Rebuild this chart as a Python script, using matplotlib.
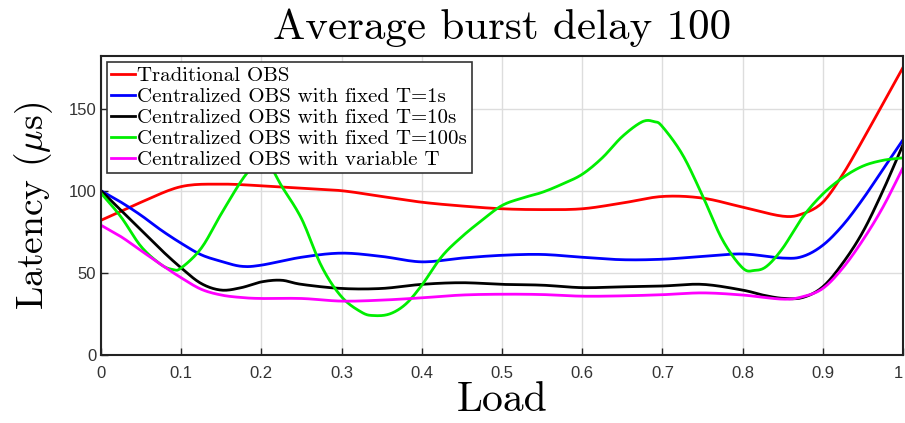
import numpy as np
import matplotlib
matplotlib.use("Agg")
import matplotlib.pyplot as plt

plt.rcParams['mathtext.fontset'] = 'cm'

title = "Average burst delay 100"
xlabel = "Load"
ylabel = r"Latency ($\mu$s)"
labels = ["Traditional OBS",
          "Centralized OBS with fixed T=1s",
          "Centralized OBS with fixed T=10s",
          "Centralized OBS with fixed T=100s",
          "Centralized OBS with variable T"]
colors = ["#ff0000", "#0000ff", "#000000", "#00ee00", "#ff00ff"]

red_x = [0, 0.05, 0.1, 0.15, 0.2, 0.25, 0.3, 0.35, 0.4, 0.45, 0.5, 0.55, 0.6, 0.65,
         0.7, 0.75, 0.8, 0.85, 0.875, 0.9, 0.925, 0.95, 0.975, 1.0]
red_y = [82, 93, 102.5, 104, 103, 101.5, 100, 96.5, 93, 90.7, 89, 88.5, 89, 92.5,
         96.5, 95.5, 90, 84.5, 86, 93, 110, 131, 153, 175]

blue_x = [0, 0.025, 0.05, 0.075, 0.1, 0.125, 0.15, 0.175, 0.2, 0.25, 0.3, 0.35, 0.4,
          0.45, 0.5, 0.55, 0.6, 0.65, 0.7, 0.75, 0.8, 0.85, 0.875, 0.9, 0.925, 0.95,
          0.975, 1.0]
blue_y = [100, 93, 85, 76, 68, 61, 57, 54, 54.7, 59.5, 62, 60, 56.7, 59, 60.7, 61.2,
          59.5, 58, 58.3, 60, 61.5, 59, 60, 66.8, 79, 95, 113, 131]

black_x = [0, 0.025, 0.05, 0.075, 0.1, 0.125, 0.15, 0.175, 0.2, 0.225, 0.25, 0.3,
           0.35, 0.4, 0.45, 0.5, 0.55, 0.6, 0.65, 0.7, 0.75, 0.8, 0.825, 0.85, 0.875,
           0.9, 0.925, 0.95, 0.975, 1.0]
black_y = [100, 88, 76, 64, 53, 43.5, 39.5, 41, 44.5, 45.5, 43, 40.5, 40.5, 43, 44, 43,
           42.5, 41, 41.5, 42, 43, 39.5, 36.5, 34.5, 35, 41.5, 56, 75, 100, 128]

green_x = [0, 0.025, 0.05, 0.075, 0.09, 0.1, 0.125, 0.15, 0.175, 0.19, 0.2, 0.21,
           0.225, 0.25, 0.275, 0.3, 0.325, 0.34, 0.36, 0.38, 0.4, 0.425, 0.45, 0.475,
           0.5, 0.525, 0.55, 0.575, 0.6, 0.625, 0.65, 0.675, 0.69, 0.7, 0.725, 0.75,
           0.775, 0.8, 0.815, 0.83, 0.85, 0.875, 0.9, 0.925, 0.95, 0.975, 1.0]
green_y = [98.5, 84, 66, 55, 52, 53, 65, 86, 106, 115, 118, 116, 103, 83, 54, 35.4,
           26, 24, 25, 31, 42.5, 60, 72, 82, 91, 95.5, 99, 104, 110, 120, 133, 142,
           142, 139, 122, 97, 70, 53, 51.5, 54, 65, 84, 98, 108, 115, 118.5, 120]

mag_x = [0, 0.025, 0.05, 0.075, 0.1, 0.125, 0.15, 0.175, 0.2, 0.25, 0.3, 0.35, 0.4,
         0.45, 0.5, 0.55, 0.6, 0.65, 0.7, 0.75, 0.8, 0.85, 0.875, 0.9, 0.925, 0.95,
         0.975, 1.0]
mag_y = [79, 72, 63.5, 55, 47, 40, 36.5, 35, 34.4, 34.4, 32.8, 33.4, 34.8, 36.5, 37,
         36.8, 35.8, 36, 36.7, 37.8, 36.5, 34, 35.5, 40.5, 53, 70, 90, 114]

xticks = [0, 0.1, 0.2, 0.3, 0.4, 0.5, 0.6, 0.7, 0.8, 0.9, 1]
xtick_labels = ["0", "0.1", "0.2", "0.3", "0.4", "0.5", "0.6", "0.7", "0.8", "0.9", "1"]
yticks = [0, 50, 100, 150]
ytick_labels = ["0", "50", "100", "150"]


def smooth_path(xs, ys, n=12):
    """Catmull-Rom rendering of the read points (curve passes through them)."""
    xs = np.asarray(xs, float)
    ys = np.asarray(ys, float)
    px = np.concatenate([[2 * xs[0] - xs[1]], xs, [2 * xs[-1] - xs[-2]]])
    py = np.concatenate([[2 * ys[0] - ys[1]], ys, [2 * ys[-1] - ys[-2]]])
    outx, outy = [], []
    t = np.linspace(0, 1, n, endpoint=False)
    for i in range(1, len(px) - 2):
        p0, p1, p2, p3 = px[i - 1], px[i], px[i + 1], px[i + 2]
        q0, q1, q2, q3 = py[i - 1], py[i], py[i + 1], py[i + 2]
        for a, b, c, d, out in ((p0, p1, p2, p3, outx), (q0, q1, q2, q3, outy)):
            out.extend(0.5 * ((2 * b) + (-a + c) * t + (2 * a - 5 * b + 4 * c - d) * t ** 2
                              + (-a + 3 * b - 3 * c + d) * t ** 3))
    outx.append(xs[-1])
    outy.append(ys[-1])
    return np.array(outx), np.array(outy)


fig = plt.figure(figsize=(9.05, 4.23), dpi=100)
ax = fig.add_axes([101/905, 1-355/423, 802/905, (355-56)/423])

series = [(red_x, red_y), (blue_x, blue_y), (black_x, black_y),
          (green_x, green_y), (mag_x, mag_y)]
for (xs, ys), lab, c in zip(series, labels, colors):
    sx, sy = smooth_path(xs, ys)
    ax.plot(sx, sy, color=c, lw=2.0, label=lab, solid_joinstyle='round')

ax.set_xlim(0, 1)
ax.set_ylim(0, 182)
ax.set_xticks(xticks)
ax.set_xticklabels(xtick_labels)
ax.set_yticks(yticks)
ax.set_yticklabels(ytick_labels)
ax.tick_params(direction='in', length=5, width=1, labelsize=12,
               labelcolor='#333333', colors='#222222',
               labelfontfamily='Liberation Sans')
ax.tick_params(axis='x', pad=8)
ax.get_xticklabels()[-1].set_horizontalalignment('right')
ax.grid(True, color='#dddddd', lw=1)
ax.set_axisbelow(True)
for s in ax.spines.values():
    s.set_color('#222222')
    s.set_linewidth(1.5)

ax.set_title(title, fontfamily='cmr10', fontsize=31, pad=12)
ax.set_xlabel(xlabel, fontfamily='cmr10', fontsize=30, labelpad=0)
ax.set_ylabel(ylabel, fontfamily='cmr10', fontsize=27, labelpad=10)

leg = ax.legend(loc='upper left', prop={'family': 'cmr10', 'size': 15},
                handlelength=1.15, handletextpad=0.1, labelspacing=0.12,
                borderpad=0.2, borderaxespad=0.3, fancybox=False,
                framealpha=1, edgecolor='#333333')
leg.get_frame().set_linewidth(1.2)

fig.savefig("out.png", dpi=100)
